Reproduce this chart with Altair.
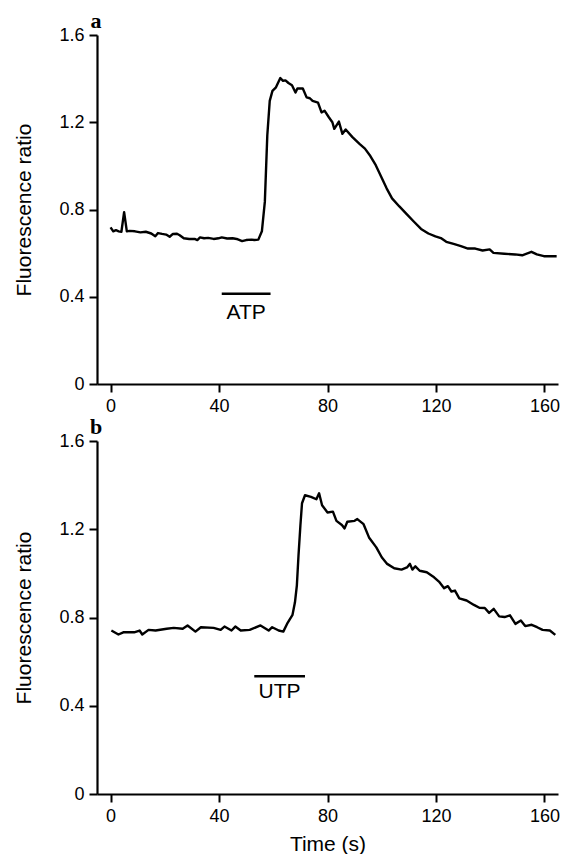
import altair as alt
import pandas as pd

# ---- data ----
time_a = [0, 1, 2, 3, 4, 5, 6, 7, 9, 11, 13, 15, 16.5, 17.5, 19, 20.5, 21.8, 23, 24.5, 25.5,
          27, 29, 31, 32, 33, 34.5, 36, 38, 39.8, 41, 43, 45, 46.5, 48.5, 50, 52, 53, 54.5,
          55.8, 56.9, 57.8, 58.7, 59.7, 61, 62.6, 63.6, 64.5, 65.6, 66.9, 68.2, 68.9, 70.9,
          72.3, 73.5, 74.5, 76.5, 77.8, 78.9, 80.5, 81.8, 82.5, 84.2, 85.5, 86.7, 89.2, 91.8,
          93.8, 95.8, 97.8, 99.8, 101.8, 103.8, 106.5, 109.2, 111.8, 114.5, 117.2, 119.8,
          121.8, 123.8, 126.5, 129.2, 131.8, 134.5, 137.2, 139.8, 141.2, 145.2, 149.2, 151.8,
          155.2, 157.2, 159.8, 164.5]
ratio_a = [0.718, 0.700, 0.705, 0.700, 0.698, 0.788, 0.700, 0.702, 0.700, 0.695, 0.698, 0.690,
           0.677, 0.692, 0.688, 0.685, 0.675, 0.688, 0.689, 0.682, 0.668, 0.665, 0.665, 0.660,
           0.672, 0.668, 0.670, 0.665, 0.668, 0.672, 0.667, 0.668, 0.665, 0.655, 0.660, 0.662,
           0.660, 0.662, 0.700, 0.836, 1.140, 1.298, 1.344, 1.360, 1.403, 1.390, 1.392, 1.380,
           1.370, 1.336, 1.355, 1.355, 1.314, 1.310, 1.298, 1.290, 1.245, 1.253, 1.223, 1.200,
           1.170, 1.203, 1.147, 1.167, 1.132, 1.101, 1.079, 1.045, 1.003, 0.950, 0.897, 0.851,
           0.814, 0.779, 0.745, 0.711, 0.690, 0.677, 0.669, 0.652, 0.642, 0.632, 0.621, 0.621,
           0.612, 0.617, 0.601, 0.597, 0.594, 0.590, 0.606, 0.594, 0.586, 0.586]

time_b = [0.3, 2.9, 4.7, 8.7, 10.7, 11.7, 14, 16.6, 20.7, 23.3, 26.6, 28.4, 31.3, 33.3, 38,
          40.6, 42, 44.6, 46, 48, 51.3, 55.3, 58.3, 59.6, 62, 63.7, 65.3, 67.1, 68, 68.7, 69.3,
          70, 70.6, 71.7, 73.9, 75.9, 76.9, 78, 80, 82, 83.3, 85.3, 86.3, 87.3, 90, 91, 93.3,
          95.3, 98, 100, 102, 104.6, 107.3, 109.3, 110.4, 111.3, 112.4, 114, 116.6, 119.3,
          121.3, 123, 124.4, 125.7, 127, 128.6, 131.3, 134, 136, 138, 139.6, 141.3, 143.3,
          145.3, 147.3, 149.3, 151.3, 152.9, 155.3, 157.3, 159.3, 162, 164]
ratio_b = [0.741, 0.723, 0.733, 0.733, 0.741, 0.723, 0.744, 0.741, 0.749, 0.753, 0.749, 0.764,
           0.736, 0.756, 0.753, 0.744, 0.759, 0.741, 0.759, 0.741, 0.744, 0.764, 0.741, 0.756,
           0.741, 0.736, 0.776, 0.812, 0.869, 0.945, 1.080, 1.216, 1.318, 1.354, 1.347, 1.336,
           1.363, 1.309, 1.276, 1.280, 1.238, 1.219, 1.204, 1.234, 1.238, 1.246, 1.223, 1.163,
           1.118, 1.073, 1.043, 1.023, 1.017, 1.027, 1.043, 1.017, 1.032, 1.012, 1.005, 0.982,
           0.960, 0.933, 0.942, 0.918, 0.922, 0.887, 0.877, 0.857, 0.844, 0.843, 0.821, 0.839,
           0.805, 0.802, 0.810, 0.771, 0.786, 0.761, 0.767, 0.756, 0.744, 0.741, 0.721]

x_ticks = [0, 40, 80, 120, 160]
y_ticks = [0, 0.4, 0.8, 1.2, 1.6]
x_domain = [-5, 165]
y_domain = [0, 1.6]

# agonist application bars: [start, end, level], label position
agonist_names = ["ATP", "UTP"]
bar_start = [41, 53]
bar_end = [59, 71.7]
bar_level = [0.414, 0.534]
label_time = [50, 62.3]
label_level = [0.327, 0.462]
panel_letters = ["a", "b"]

LABEL_FONT = "Liberation Sans, Arial"
TITLE_FONT = "Liberation Sans, Arial"


def panel(times, ratios, i, show_xtitle, height):
    df = pd.DataFrame({"t": times, "r": ratios})
    bar_df = pd.DataFrame({"s": [bar_start[i]], "e": [bar_end[i]], "y": [bar_level[i]]})
    lab_df = pd.DataFrame({"t": [label_time[i]], "y": [label_level[i]], "txt": [agonist_names[i]]})
    let_df = pd.DataFrame({"t": [x_domain[0]], "y": [y_domain[1]], "txt": [panel_letters[i]]})

    xscale = alt.Scale(domain=x_domain, nice=False, zero=False)
    yscale = alt.Scale(domain=y_domain, nice=False)
    if show_xtitle:
        xaxis = alt.Axis(values=x_ticks, format="d", title="Time (s)")
    else:
        xaxis = alt.Axis(values=x_ticks, format="d", title=None)
    yaxis = alt.Axis(values=y_ticks, format="~g", title="Fluorescence ratio")

    line = alt.Chart(df).mark_line(color="black", strokeWidth=2.4, strokeJoin="round").encode(
        x=alt.X("t:Q", scale=xscale, axis=xaxis),
        y=alt.Y("r:Q", scale=yscale, axis=yaxis),
    )
    bar = alt.Chart(bar_df).mark_rule(color="black", strokeWidth=2.5).encode(
        x=alt.X("s:Q", scale=xscale),
        x2="e:Q",
        y=alt.Y("y:Q", scale=yscale),
    )
    txt = alt.Chart(lab_df).mark_text(font=TITLE_FONT, fontSize=21, color="black").encode(
        x=alt.X("t:Q", scale=xscale),
        y=alt.Y("y:Q", scale=yscale),
        text="txt:N",
    )
    letter = alt.Chart(let_df).mark_text(
        font="Liberation Serif, Times New Roman", fontWeight="bold", fontSize=22,
        color="black", baseline="alphabetic", align="center", dy=-7, dx=-1,
    ).encode(
        x=alt.X("t:Q", scale=xscale),
        y=alt.Y("y:Q", scale=yscale),
        text="txt:N",
    )
    return alt.layer(line, bar, txt, letter).properties(width=461, height=height)


chart = alt.vconcat(
    panel(time_a, ratio_a, 0, False, 349),
    panel(time_b, ratio_b, 1, True, 353),
    spacing=1,
).properties(
    padding={"left": 5, "top": 2, "right": 0, "bottom": 0}
).configure_view(
    stroke=None
).configure_axis(
    grid=False,
    domainColor="black", domainWidth=2.2,
    tickColor="black", tickWidth=2, tickSize=8,
    labelFont=LABEL_FONT, labelFontSize=18, labelColor="black", labelPadding=5,
    titleFont=TITLE_FONT, titleFontSize=21, titleFontWeight="normal", titleColor="black",
).configure_axisY(
    titlePadding=24,
).configure_axisX(
    titlePadding=8,
)

chart.save("out.html", embed_options={"renderer": "svg", "actions": False})
